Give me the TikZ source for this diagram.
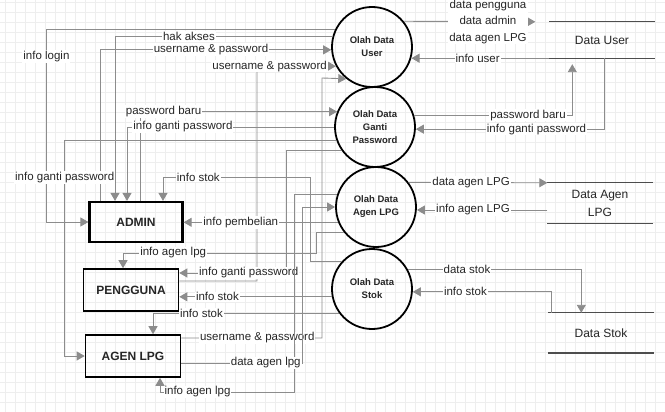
\documentclass[tikz,border=0pt]{standalone}
\usepackage{fontspec}
\setmainfont{Liberation Sans}
\usetikzlibrary{arrows.meta, positioning, calc}
\definecolor{dfdgray}{HTML}{8C8C8C}
\definecolor{dfdgrid}{HTML}{EEEEEE}
\definecolor{dfdline}{HTML}{4D4D4D}
\definecolor{dfdtext}{HTML}{262626}

\begin{document}
\begin{tikzpicture}[
  x=1pt, y=-1pt,
  every node/.style={font=\fontsize{11.5}{16.5}\selectfont, text=dfdtext},
  process/.style={circle, draw=black, line width=1.8pt, minimum size=80pt, inner sep=0pt, align=center, font=\fontsize{9.5}{13}\selectfont\bfseries},
  entity/.style={rectangle, draw=black, line width=1.6pt, minimum width=95pt, minimum height=42pt, font=\fontsize{12}{14}\selectfont\bfseries},
  store/.style={rectangle, minimum width=105pt, minimum height=40pt, align=center, font=\fontsize{12}{18}\selectfont},
  storeline/.style={draw=dfdline, line width=1.2pt},
  flow/.style={draw=dfdgray, line width=0.9pt, -{Triangle[length=8pt, width=9pt]}},
  lbl/.style={fill=white, inner sep=1pt, align=center},
]
\useasboundingbox (0,0) rectangle (665,412);

% Grid
\foreach \gx in {5,15,...,665} \draw[dfdgrid, line width=0.4pt] (\gx,0) -- (\gx,412);
\foreach \gy in {2,12,...,412} \draw[dfdgrid, line width=0.4pt] (0,\gy) -- (665,\gy);

% Processes
\node[process] (user) at (372,47) {Olah Data\\User};
\node[process] (gantipw) at (375,127) {Olah Data\\Ganti\\Password};
\node[process] (agen) at (376,207) {Olah Data\\Agen LPG};
\node[process] (stok) at (372,289) {Olah Data\\Stok};

% Entities
\node[entity, line width=2.2pt, minimum width=93pt, minimum height=40pt] (admin) at (136,222) {ADMIN};
\node[entity] (pengguna) at (131,290) {PENGGUNA};
\node[entity] (agenlpg) at (133,356) {AGEN LPG};

% Data stores
\node[store, minimum height=36pt] (datauser) at (602,40) {Data User};
\draw[storeline] (datauser.north west) -- (datauser.north east);
\draw[storeline] (datauser.south west) -- (datauser.south east);
\node[store] (dataagen) at (600,203) {Data Agen\\LPG};
\draw[storeline] (dataagen.north west) -- (dataagen.north east);
\draw[storeline] (dataagen.south west) -- (dataagen.south east);
\node[store] (datastok) at (601,333) {Data Stok};
\draw[storeline] (datastok.north west) -- (datastok.north east);
\draw[storeline, line width=2pt] (datastok.south west) -- (datastok.south east);

% Olah Data User
\draw[flow] (user.155) -| ([xshift=-42pt]admin.west) node[lbl, pos=0.57] {info login} -- (admin.west);
\draw[flow] (user.165) -| ([xshift=-21pt]admin.north) node[lbl, pos=0.33] {hak akses};
\draw[flow] ([xshift=-36pt]admin.north) |- (user.184) node[lbl, pos=0.74] {username \& password};
\draw[flow] ([yshift=9pt]pengguna.east) -| (257,66) -- (user.208) node[lbl, pos=0.16] {username \& password};
\draw[flow] ([yshift=18pt]agenlpg.east) -| (322,78) node[lbl, pos=0.27] {username \& password} -- (user.231);
\draw[flow] (user.39) -- ([xshift=-14pt]datauser.north west) node[lbl, pos=0.64] {data pengguna\\data admin\\data agen LPG};
\draw[flow] (datauser.south west) -- (datauser.south west -| user.-15) node[lbl, pos=0.52] {info user};

% Olah Data Ganti Password
\draw[flow] ([xshift=4pt]admin.north) |- (gantipw.158) node[lbl, pos=0.56] {password baru};
\draw[flow] (gantipw.180) -| ([xshift=-9pt]admin.north) node[lbl, pos=0.365] {info ganti password};
\draw[flow] (gantipw.199) -| ([xshift=-20pt]agenlpg.west) node[lbl, pos=0.586] {info ganti password} -- (agenlpg.west);
\draw[flow] (gantipw.215) -| (286,273) -- ([yshift=17pt]pengguna.east) node[lbl, pos=0.35] {info ganti password};
\draw[flow] (gantipw.17) -| ([xshift=23pt, yshift=-6pt]datauser.south west) node[lbl, pos=0.36] {password baru};
\draw[flow] ([xshift=55pt]datauser.south west) |- (gantipw.-3) node[lbl, pos=0.68] {info ganti password};

% Olah Data Agen LPG
\draw[flow] (agen.37) -- (dataagen.north west) node[lbl, pos=0.45] {data agen LPG};
\draw[flow] ([yshift=-7pt]dataagen.west) -- ([yshift=-7pt]dataagen.west -| agen.east) node[lbl, pos=0.57] {info agen LPG};
\draw[flow] (agen.202) -- (agen.202 -| admin.east) node[lbl, pos=0.63] {info pembelian};
\draw[flow] (agen.219) -| (316,253) -| ([xshift=-8pt]pengguna.north) node[lbl, pos=0.37] {info agen lpg};
\draw[flow] (agen.162) -| (294,392) -| ([xshift=27pt]agenlpg.south) node[lbl, pos=0.36] {info agen lpg};
\draw[flow] ([yshift=-7pt]agenlpg.east) -| (302,207) node[lbl, pos=0.35] {data agen lpg} -- (agen.west);

% Olah Data Stok
\draw[flow] (stok.137) -| (310,177) -| ([xshift=27pt]admin.north) node[lbl, pos=0.38] {info stok};
\draw[flow] (stok.191) -- (stok.191 -| pengguna.east) node[lbl, pos=0.75] {info stok};
\draw[flow] (stok.217) -| ([xshift=20pt]agenlpg.north) node[lbl, pos=0.37] {info stok};
\draw[flow] (stok.28) -| ([xshift=33pt]datastok.north west) node[lbl, pos=0.17] {data stok};
\draw[flow] ([xshift=3pt]datastok.north west) |- (stok.-4) node[lbl, pos=0.81] {info stok};

\end{tikzpicture}
\end{document}
